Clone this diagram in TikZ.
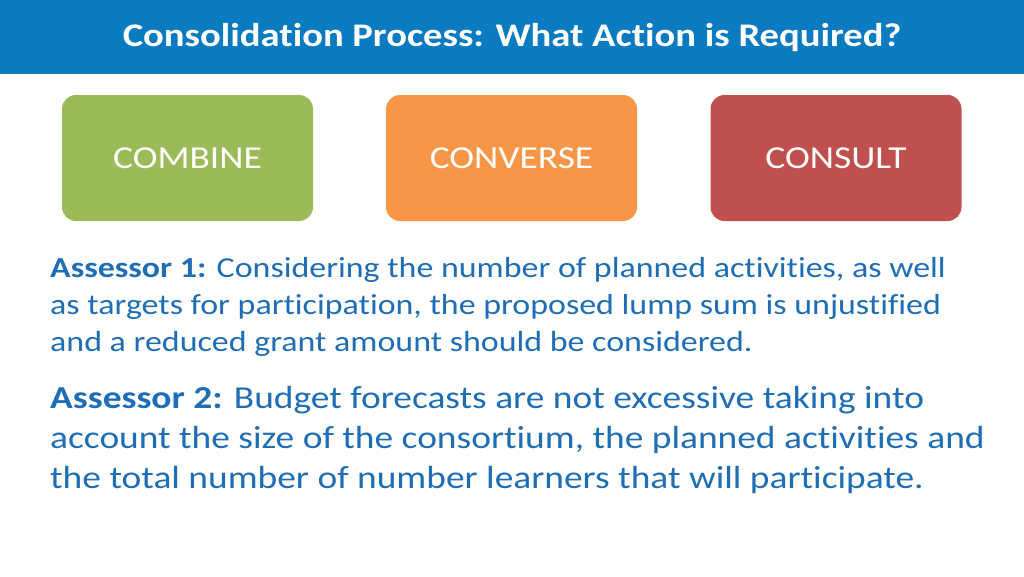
\documentclass[tikz,border=0pt]{standalone}
\usepackage{fontspec}
\setmainfont{Carlito}[FakeStretch=1.17,Ligatures=NoCommon]
\definecolor{bar}{HTML}{0A7BC0}
\definecolor{gr}{HTML}{9BBB59}
\definecolor{og}{HTML}{F79646}
\definecolor{rd}{HTML}{C0504D}
\definecolor{tx}{HTML}{1F6DB5}
\begin{document}
\begin{tikzpicture}[x=1pt,y=-1pt,
  card/.style={rounded corners=14pt,minimum width=251pt,minimum height=126pt,text=white,font=\fontsize{32}{38}\selectfont},
  para/.style={anchor=north west,align=left,text=tx,inner sep=0pt}]
\useasboundingbox (0,0) rectangle (1024,576);
\fill[bar] (0,0) rectangle (1024,74);
\node[text=white,font=\fontsize{33}{38}\selectfont\bfseries] (title) at (512,38) {Consolidation Process: What Action is Required?};
\node[card,fill=gr] (c1) at (187.5,158) {COMBINE};
\node[card,fill=og] (c2) at (511.5,158) {CONVERSE};
\node[card,fill=rd] (c3) at (836,158) {CONSULT};
\node[para,font=\fontsize{29}{37}\selectfont] (p1) at (50,257) {\textbf{Assessor 1:} Considering the number of planned activities, as well\\as targets for participation, the proposed lump sum is unjustified\\and a reduced grant amount should be considered.};
\node[para,font=\fontsize{32}{40}\selectfont] (p2) at (50,386) {\textbf{Assessor 2:} Budget forecasts are not excessive taking into\\account the size of the consortium, the planned activities and\\the total number of number learners that will participate.};
\end{tikzpicture}
\end{document}
